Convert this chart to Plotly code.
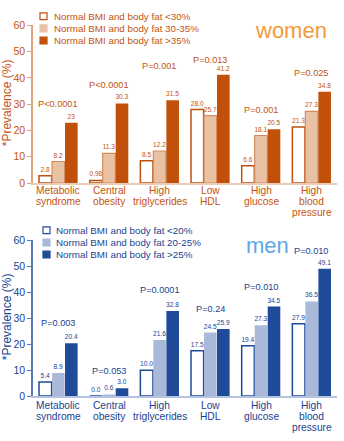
import plotly.graph_objects as go

categories = ["Metabolic<br>syndrome", "Central<br>obesity", "High<br>triglycerides",
              "Low<br>HDL", "High<br>glucose", "High<br>blood<br>pressure"]

women_names = ["Normal BMI and body fat <30%", "Normal BMI and body fat 30-35%",
               "Normal BMI and body fat >35%"]
women_low = [2.8, 0.98, 8.5, 28.0, 6.6, 21.3]
women_mid = [8.2, 11.3, 12.2, 25.7, 18.1, 27.3]
women_high = [23, 30.3, 31.5, 41.2, 20.5, 34.8]
women_low_lbl = ["2.8", "0.98", "8.5", "28.0", "6.6", "21.3"]
women_mid_lbl = ["8.2", "11.3", "12.2", "25.7", "18.1", "27.3"]
women_high_lbl = ["23", "30.3", "31.5", "41.2", "20.5", "34.8"]
women_p = ["P<0.0001", "P<0.0001", "P=0.001", "P=0.013", "P=0.001", "P=0.025"]
women_p_y = [30, 37.4, 44.4, 46.7, 27.8, 41.9]

men_names = ["Normal BMI and body fat <20%", "Normal BMI and body fat 20-25%",
             "Normal BMI and body fat >25%"]
men_low = [5.4, 0.0, 10.0, 17.5, 19.4, 27.9]
men_mid = [8.9, 0.6, 21.6, 24.5, 27.3, 36.5]
men_high = [20.4, 3.0, 32.8, 25.9, 34.5, 49.1]
men_low_lbl = ["5.4", "0.0", "10.0", "17.5", "19.4", "27.9"]
men_mid_lbl = ["8.9", "0.6", "21.6", "24.5", "27.3", "36.5"]
men_high_lbl = ["20.4", "3.0", "32.8", "25.9", "34.5", "49.1"]
men_p = ["P=0.003", "P=0.053", "P=0.0001", "P=0.24", "P=0.010", "P=0.010"]
men_p_y = [28.1, 9.75, 40.9, 33.4, 42.0, 55.9]

y_ticks = [0, 10, 20, 30, 40, 50, 60]

W, H = 344, 441
ML, MR = 33, 7
PW = W - ML - MR
FONT = "Arial"

OR_DARK = "#c0500a"
OR_LIGHT = "#e9c2a6"
OR_TEXT = "#c4540f"
OR_AXIS = "#e0a47c"
OR_BASE = "#eccbb6"
BL_DARK = "#1f4b99"
BL_LIGHT = "#aab9da"
BL_TEXT = "#1b3f91"
BL_AXIS = "#5877bd"
BL_BASE = "#b4c3e2"


def py(p):
    return (H - p) / H


def px(p):
    return (p - ML) / PW


fig = go.Figure()

x_keys = [c for c in categories]


def add_bars(vals, lbls, name, fill, line_color, line_w, txt_color, xa, ya):
    fig.add_trace(go.Bar(
        x=x_keys, y=vals, name=name, text=lbls, textposition="outside",
        constraintext="none", cliponaxis=False,
        textfont=dict(size=6.6, color=txt_color, family=FONT),
        marker=dict(color=fill, line=dict(color=line_color, width=line_w)),
        xaxis=xa, yaxis=ya, showlegend=False))


add_bars(women_low, women_low_lbl, women_names[0], "white", OR_DARK, 1.5, OR_TEXT, "x", "y")
add_bars(women_mid, women_mid_lbl, women_names[1], OR_LIGHT, "#d68a5c", 1.2, OR_TEXT, "x", "y")
add_bars(women_high, women_high_lbl, women_names[2], OR_DARK, OR_DARK, 0, OR_TEXT, "x", "y")
add_bars(men_low, men_low_lbl, men_names[0], "white", BL_DARK, 1.5, BL_TEXT, "x2", "y2")
add_bars(men_mid, men_mid_lbl, men_names[1], BL_LIGHT, BL_LIGHT, 0, BL_TEXT, "x2", "y2")
add_bars(men_high, men_high_lbl, men_names[2], BL_DARK, BL_DARK, 0, BL_TEXT, "x2", "y2")

annotations = []
shapes = []

# P-value annotations
for xa, ya, pl, pyv, col in [("x", "y", women_p, women_p_y, OR_TEXT),
                              ("x2", "y2", men_p, men_p_y, BL_TEXT)]:
    for c, t, yv in zip(x_keys, pl, pyv):
        annotations.append(dict(x=c, y=yv, xref=xa, yref=ya, text=t, showarrow=False,
                                xanchor="center", yanchor="middle",
                                font=dict(size=9.2, color=col, family=FONT)))

# category labels, one line per annotation for tight spacing
for xa, y0, col in [("x", 190, OR_TEXT), ("x2", 411, BL_TEXT)]:
    for c in x_keys:
        for i, line in enumerate(c.split("<br>")):
            annotations.append(dict(x=c, xref=xa, y=py(y0 + 11 * i), yref="paper",
                                    text=line, showarrow=False, xanchor="center",
                                    yanchor="middle",
                                    font=dict(size=10.2, color=col, family=FONT)))

# legends (manual, tight spacing)
leg_specs = [
    (women_names, [("white", OR_DARK), (OR_LIGHT, OR_LIGHT), (OR_DARK, OR_DARK)], 10.5, 40, 52, OR_TEXT),
    (men_names, [("white", BL_DARK), (BL_LIGHT, BL_LIGHT), (BL_DARK, BL_DARK)], 230.5, 43, 54, BL_TEXT),
]
for names, cols, y0, sx, tx, tcol in leg_specs:
    for i, (nm, (fc, lc)) in enumerate(zip(names, cols)):
        cy = y0 + 12.5 * i
        shapes.append(dict(type="rect", xref="paper", yref="paper",
                           x0=px(sx), x1=px(sx + 7), y0=py(cy + 3.5), y1=py(cy - 3.5),
                           fillcolor=fc, line=dict(color=lc, width=1.2)))
        annotations.append(dict(x=px(tx), y=py(cy), xref="paper", yref="paper",
                                text=nm, showarrow=False, xanchor="left", yanchor="middle",
                                font=dict(size=9.8, color=tcol, family=FONT)))

# panel titles
annotations.append(dict(x=px(291), y=py(25), xref="paper", yref="paper", text="women",
                        showarrow=False, xanchor="center", yanchor="middle",
                        font=dict(size=22, color="#f39a3c", family=FONT)))
annotations.append(dict(x=px(267), y=py(246), xref="paper", yref="paper", text="men",
                        showarrow=False, xanchor="center", yanchor="middle",
                        font=dict(size=22, color="#5fa8e8", family=FONT)))

# y titles
annotations.append(dict(x=px(7), y=py(100), xref="paper", yref="paper", text="*Prevalence (%)",
                        textangle=-90, showarrow=False, xanchor="center", yanchor="middle",
                        font=dict(size=12, color=OR_TEXT, family=FONT)))
annotations.append(dict(x=px(7), y=py(320), xref="paper", yref="paper", text="*Prevalence (%)",
                        textangle=-90, showarrow=False, xanchor="center", yanchor="middle",
                        font=dict(size=12, color=BL_TEXT, family=FONT)))


def yax(dom, lc, tc):
    return dict(domain=dom, range=[0, 60], tickvals=y_ticks, showgrid=False, zeroline=False,
                showline=True, linecolor=lc, linewidth=1.5, ticks="outside", ticklen=4,
                tickcolor=lc, tickfont=dict(size=10.5, color=tc, family=FONT), fixedrange=True)


def xax(anchor, lc):
    return dict(anchor=anchor, range=[-0.5, 5.5], showticklabels=False, ticks="",
                showgrid=False, zeroline=False, showline=True, linecolor=lc, linewidth=2,
                type="category", fixedrange=True)


fig.update_layout(
    width=W, height=H,
    margin=dict(l=ML, r=MR, t=0, b=0),
    paper_bgcolor="white", plot_bgcolor="white",
    barmode="group", bargap=0.23, bargroupgap=0.03,
    xaxis=xax("y", OR_BASE),
    xaxis2=xax("y2", BL_BASE),
    yaxis=yax([py(182), py(20)], OR_AXIS, OR_TEXT),
    yaxis2=yax([py(401), py(241)], BL_AXIS, BL_TEXT),
    annotations=annotations, shapes=shapes,
    font=dict(family=FONT),
    showlegend=False,
)

fig.write_html("out.html", config={"displayModeBar": False})
